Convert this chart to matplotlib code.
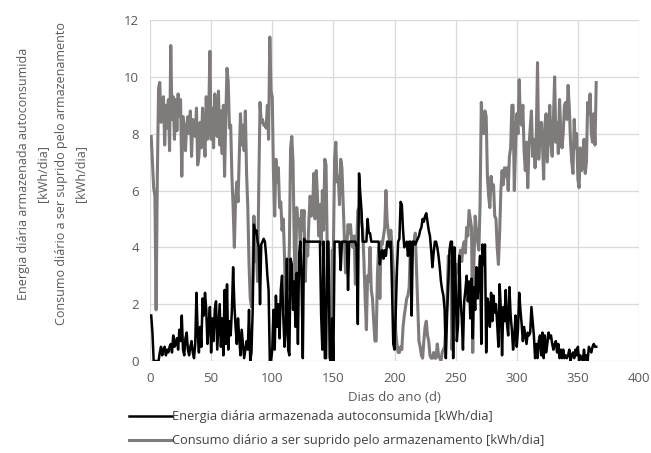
import matplotlib
matplotlib.use("Agg")
import matplotlib.pyplot as plt
from matplotlib.lines import Line2D

plt.rcParams['font.family'] = ['Open Sans', 'DejaVu Sans']

days = list(range(1, 366))

# Energia diária armazenada autoconsumida [kWh/dia]
energia = [
    1.6, 1.0, 0.0, 0.0, 0.0, 0.0, 0.0, 0.3, 0.5, 0.2,
    0.4, 0.5, 0.2, 0.4, 0.3, 0.5, 0.6, 0.3, 0.9, 0.5,
    0.6, 0.8, 0.4, 1.1, 0.7, 1.6, 0.4, 0.2, 0.8, 1.0,
    0.4, 0.2, 0.5, 0.7, 0.3, 0.1, 0.6, 2.4, 1.0, 0.3,
    1.2, 0.5, 2.2, 1.6, 2.4, 1.8, 0.6, 1.3, 1.9, 0.3,
    1.5, 0.7, 1.8, 2.1, 0.4, 1.2, 2.0, 0.5, 1.5, 0.2,
    2.5, 0.6, 2.7, 0.4, 1.4, 0.9, 1.8, 3.3, 2.0, 1.2,
    0.6, 1.5, 0.8, 0.2, 1.1, 0.6, 0.1, 0.4, 0.7, 0.4,
    1.8, 0.0, 0.3, 1.8, 4.8, 4.5, 4.6, 4.2, 4.0, 2.0,
    4.1, 4.2, 4.3, 4.2, 3.7, 3.0, 2.5, 0.0, 0.0, 0.4,
    1.8, 0.4, 2.3, 1.2, 2.0, 0.8, 2.5, 3.0, 1.6, 0.5,
    1.1, 3.6, 0.4, 0.2, 3.6, 3.4, 1.8, 2.8, 1.2, 3.1,
    0.6, 3.8, 4.2, 2.8, 0.1, 4.3, 4.2, 4.2, 4.2, 4.2,
    4.2, 4.2, 4.2, 4.2, 4.2, 4.2, 4.2, 4.2, 4.2, 1.6,
    0.4, 4.2, 0.1, 0.1, 4.2, 4.2, 0.1, 0.0, 1.5, 0.0,
    4.2, 4.2, 4.2, 4.2, 4.2, 3.2, 4.2, 4.2, 4.2, 4.2,
    4.2, 2.5, 4.2, 4.2, 4.2, 4.2, 4.2, 4.2, 4.0, 1.3,
    6.6, 5.9, 5.3, 4.2, 4.2, 4.2, 4.2, 5.0, 4.5, 4.5,
    4.2, 4.2, 4.2, 4.2, 4.2, 4.2, 4.2, 3.4, 3.8, 3.9,
    3.6, 3.9, 3.7, 4.2, 4.2, 4.0, 4.2, 2.5, 0.6, 0.4,
    1.7, 3.2, 4.2, 4.3, 5.6, 5.5, 4.6, 4.0, 4.1, 4.2,
    3.7, 4.2, 4.2, 1.6, 4.2, 4.2, 4.1, 4.2, 4.3, 4.4,
    4.6, 4.7, 5.0, 4.9, 5.1, 5.2, 4.9, 4.6, 4.4, 3.9,
    3.3, 3.8, 4.2, 4.2, 4.0, 3.7, 3.3, 2.8, 2.5, 2.3,
    1.8, 0.1, 1.6, 2.8, 3.9, 4.2, 4.2, 0.1, 4.0, 2.8,
    0.7, 1.3, 3.7, 2.2, 1.5, 0.4, 2.1, 2.5, 3.0, 2.1,
    2.8, 1.5, 2.9, 0.8, 2.6, 1.8, 3.3, 2.2, 3.0, 3.7,
    0.6, 4.1, 3.4, 4.1, 0.3, 2.2, 2.0, 1.2, 2.4, 1.4,
    2.3, 1.7, 2.0, 1.3, 0.5, 2.7, 1.8, 0.2, 1.9, 1.4,
    2.5, 1.3, 0.9, 2.6, 1.6, 1.1, 0.4, 0.9, 1.6, 0.5,
    1.1, 2.4, 1.8, 1.3, 0.7, 1.2, 0.9, 0.6, 1.0, 0.9,
    1.0, 1.9, 1.4, 0.9, 0.1, 0.6, 0.1, 0.7, 0.9, 0.2,
    1.0, 0.1, 0.9, 0.3, 0.6, 1.0, 0.8, 0.9, 0.6, 0.4,
    0.6, 0.7, 0.3, 0.6, 0.1, 0.4, 0.1, 0.4, 0.1, 0.2,
    0.1, 0.2, 0.4, 0.0, 0.2, 0.3, 0.1, 0.4, 0.2, 0.5,
    0.0, 0.2, 0.1, 0.0, 0.4, 0.0, 0.2, 0.0, 0.5, 0.4,
    0.3, 0.5, 0.6, 0.5, 0.5,
]

# Consumo diário a ser suprido pelo armazenamento [kWh/dia]
consumo = [
    7.9, 7.0, 6.1, 5.8, 1.8, 6.5, 9.6, 9.8, 8.4, 8.7,
    9.3, 7.6, 9.0, 8.2, 9.2, 7.4, 11.1, 8.5, 9.3, 7.8,
    9.2, 8.1, 9.4, 8.6, 9.2, 6.5, 8.6, 8.2, 7.4, 8.3,
    8.6, 8.0, 8.8, 7.2, 8.5, 8.3, 7.9, 8.9, 6.9, 7.2,
    8.4, 7.5, 8.9, 8.0, 7.2, 9.3, 7.8, 8.6, 10.9, 7.8,
    8.9, 7.5, 9.4, 8.2, 7.9, 9.5, 7.6, 8.8, 7.3, 9.0,
    6.5, 8.6, 10.3, 9.8, 8.2, 8.3, 6.5, 5.4, 4.0, 5.7,
    6.3, 5.6, 7.2, 8.7, 7.6, 8.3, 7.4, 8.8, 6.6, 5.4,
    3.4, 2.2, 1.9, 2.8, 5.1, 3.5, 4.0, 2.8, 6.2, 9.1,
    8.4, 8.5, 8.3, 8.3, 8.2, 9.0, 7.8, 11.4, 9.5, 9.3,
    6.6, 5.1, 7.1, 6.3, 6.8, 5.4, 5.6, 4.6, 5.0, 3.7,
    1.8, 3.1, 2.5, 4.0, 7.5, 7.9, 7.0, 4.1, 2.4, 5.4,
    4.9, 5.0, 4.0, 5.3, 4.6, 5.3, 2.8, 4.1, 3.7, 5.0,
    5.8, 5.1, 5.3, 6.6, 5.0, 6.7, 5.8, 4.4, 5.5, 4.1,
    6.0, 4.6, 7.1, 6.9, 3.9, 2.3, 1.6, 0.1, 3.9, 3.9,
    7.1, 7.7, 6.3, 6.5, 5.5, 7.1, 6.8, 5.6, 4.4, 3.1,
    4.0, 4.8, 4.5, 4.8, 4.2, 4.0, 4.4, 2.7, 4.0, 5.3,
    5.4, 5.5, 4.9, 4.6, 3.5, 2.2, 1.1, 3.0, 2.8, 4.0,
    2.5, 2.2, 1.4, 0.7, 0.7, 3.0, 4.0, 2.2, 4.2, 4.1,
    4.4, 4.7, 6.0, 4.9, 4.5, 4.2, 4.6, 4.0, 3.2, 2.8,
    1.0, 0.6, 0.3, 0.3, 0.5, 0.4, 1.2, 1.6, 1.9, 2.2,
    2.3, 2.6, 4.0, 3.5, 4.2, 4.2, 4.5, 3.2, 1.8, 0.7,
    0.5, 0.2, 0.1, 0.7, 1.2, 1.4, 0.9, 0.7, 0.2, 0.1,
    0.1, 0.3, 0.1, 0.1, 0.6, 0.2, 0.1, 0.0, 0.3, 0.4,
    0.5, 1.2, 2.2, 3.7, 3.3, 3.5, 0.4, 1.5, 2.8, 3.0,
    3.4, 3.1, 3.6, 3.9, 3.5, 4.0, 4.2, 3.8, 4.7, 4.4,
    5.3, 5.0, 4.7, 0.3, 3.5, 5.1, 4.6, 4.2, 3.9, 5.5,
    9.1, 8.2, 8.0, 8.8, 8.6, 6.5, 5.8, 5.4, 6.5, 6.0,
    6.2, 5.1, 5.0, 4.0, 3.4, 4.5, 6.0, 6.7, 6.2, 6.8,
    6.5, 6.8, 6.0, 7.2, 7.5, 9.0, 9.0, 6.0, 7.5, 8.7,
    8.0, 9.9, 8.4, 8.3, 9.0, 7.4, 6.7, 7.7, 6.1, 7.5,
    8.2, 8.8, 7.2, 7.8, 6.8, 8.0, 10.5, 7.1, 8.0, 8.4,
    7.7, 6.4, 8.3, 8.7, 7.0, 8.0, 9.0, 7.7, 7.2, 8.5,
    10.0, 7.7, 8.4, 7.3, 9.2, 8.1, 7.5, 8.0, 9.0, 9.1,
    8.5, 9.7, 8.9, 7.7, 7.0, 6.6, 8.5, 7.5, 8.0, 6.4,
    6.1, 7.5, 6.7, 6.8, 7.8, 6.6, 7.0, 9.1, 8.7, 9.4,
    8.0, 7.7, 8.7, 7.6, 9.8,
]

x_ticks = [0, 50, 100, 150, 200, 250, 300, 350, 400]
y_ticks = [0, 2, 4, 6, 8, 10, 12]

label_energia = "Energia diária armazenada autoconsumida [kWh/dia]"
label_consumo = "Consumo diário a ser suprido pelo armazenamento [kWh/dia]"

W, H = 651, 453
fig = plt.figure(figsize=(W / 100, H / 100), dpi=100)
ax = fig.add_axes([150 / W, 1 - 361 / H, (639 - 150) / W, (361 - 20) / H])

black = "#000000"
gray = "#7f7b7b"
txt = "#595959"
legend_txt = "#404040"

ax.plot(days, consumo, color=gray, lw=2.2, solid_joinstyle="round", zorder=3)
ax.plot(days, energia, color=black, lw=1.8, solid_joinstyle="round", zorder=4)

ax.set_xlim(0, 400)
ax.set_ylim(0, 12)
ax.set_xticks(x_ticks)
ax.set_yticks(y_ticks)
ax.grid(True, color="#d9d9d9", lw=0.9)
ax.set_axisbelow(True)
for s in ax.spines.values():
    s.set_visible(False)
ax.tick_params(length=0, labelsize=9.5, labelcolor=txt, pad=8)

ax.set_xlabel("Dias do ano (d)", fontsize=9.5, color=txt, labelpad=4)

fig.text(52 / W, 1 - 174 / H,
         "Energia diária armazenada autoconsumida\n[kWh/dia]\n"
         "Consumo diário a ser suprido pelo armazenamento\n[kWh/dia]",
         rotation=90, ha="center", va="center", multialignment="center",
         fontsize=9, color=txt, linespacing=1.6)

handles = [Line2D([], [], color=black, lw=1.8), Line2D([], [], color=gray, lw=2.2)]
fig.legend(handles, [label_energia, label_consumo], loc="upper left",
           bbox_to_anchor=(124 / W, 1 - 405 / H), frameon=False,
           fontsize=9.3, labelcolor=legend_txt, handlelength=3.3, handletextpad=0.05,
           labelspacing=0.85, borderaxespad=0)

fig.savefig("out.png", dpi=100)
